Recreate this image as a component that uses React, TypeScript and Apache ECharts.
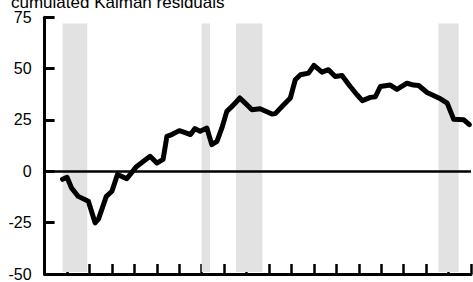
import React, { useEffect, useRef } from "react";
import * as echarts from "echarts";

const TITLE = "cumulated Kalman residuals";
const YEARS = [
  1973.8, 1974.0, 1974.2, 1974.5, 1974.95, 1975.25, 1975.4, 1975.75, 1976.0, 1976.25,
  1976.66, 1977.1, 1977.7, 1978.0, 1978.28, 1978.45, 1978.67, 1979.0, 1979.2, 1979.5,
  1979.7, 1979.93, 1980.23, 1980.45, 1980.68, 1980.9, 1981.12, 1981.35, 1981.7, 1981.94,
  1982.24, 1982.6, 1983.13, 1983.28, 1983.58, 1983.95, 1984.17, 1984.4, 1984.76, 1985.0,
  1985.36, 1985.65, 1985.95, 1986.25, 1986.62, 1986.92, 1987.16, 1987.52, 1987.74, 1987.96,
  1988.4, 1988.7, 1989.15, 1989.44, 1989.67, 1990.04, 1990.64, 1990.94, 1991.23, 1991.68,
  1991.93,
];
const RESIDUALS = [
  -3.9, -2.9, -8.1, -12.2, -14.6, -25.1, -23.3, -12.2, -9.7, -1.5,
  -3.6, 2.4, 7.3, 4.0, 5.8, 17.0, 17.9, 19.8, 19.1, 17.9,
  20.8, 19.5, 21.1, 13.0, 14.6, 21.1, 29.2, 31.6, 35.7, 33.2,
  30.0, 30.5, 27.9, 28.1, 31.6, 35.7, 44.6, 47.0, 47.8, 51.6,
  48.3, 49.5, 46.2, 46.7, 41.3, 37.3, 34.4, 36.0, 36.3, 41.3,
  42.0, 39.9, 42.9, 42.0, 41.8, 38.4, 35.3, 33.2, 25.3, 25.1,
  22.7,
];
const RECESSION_START = [1973.8, 1980.0, 1981.53, 1990.55];
const RECESSION_END = [1974.9, 1980.37, 1982.7, 1991.45];
const Y_TICKS = [-50, -25, 0, 25, 50, 75];

export default function App() {
  const ref = useRef<HTMLDivElement>(null);
  useEffect(() => {
    if (!ref.current) return;
    const chart = echarts.init(ref.current, undefined, { renderer: "svg" });
    const font = "Liberation Sans, Arial, Helvetica, sans-serif";
    chart.setOption({
      animation: false,
      backgroundColor: "#ffffff",
      title: {
        text: TITLE,
        left: 11,
        top: -6,
        padding: 0,
        textStyle: { fontFamily: font, fontSize: 17, fontWeight: "normal", color: "#000" },
      },
      grid: { left: 44.6, right: 2, top: 17.3, bottom: 8, containLabel: false },
      xAxis: {
        type: "value",
        min: 1973,
        max: 1992,
        interval: 1,
        axisLine: { show: true, onZero: false, lineStyle: { color: "#000", width: 3 } },
        axisTick: { show: true, inside: true, length: 10, lineStyle: { color: "#000", width: 2.5 } },
        axisLabel: { show: false },
        splitLine: { show: false },
      },
      yAxis: {
        type: "value",
        min: Y_TICKS[0],
        max: Y_TICKS[Y_TICKS.length - 1],
        interval: 25,
        axisLine: { show: true, lineStyle: { color: "#000", width: 3 } },
        axisTick: { show: true, inside: true, length: 10, lineStyle: { color: "#000", width: 3 } },
        axisLabel: {
          color: "#000",
          fontFamily: font,
          fontSize: 16,
          margin: 13,
        },
        splitLine: { show: false },
      },
      series: [
        {
          type: "line",
          data: YEARS.map((y, i) => [y, RESIDUALS[i]]),
          showSymbol: false,
          symbol: "none",
          lineStyle: { color: "#000", width: 5, join: "round", cap: "round" },
          z: 5,
          markArea: {
            silent: true,
            itemStyle: { color: "#e2e2e2" },
            data: RECESSION_START.map((s, i) => [
              { xAxis: s, yAxis: 72 },
              { xAxis: RECESSION_END[i], yAxis: -49 },
            ]),
          },
          markLine: {
            silent: true,
            symbol: "none",
            label: { show: false },
            lineStyle: { color: "#000", width: 2.5, type: "solid" },
            data: [{ yAxis: 0 }],
          },
        },
      ],
    });
    return () => chart.dispose();
  }, []);
  return (
    <div
      ref={ref}
      style={{ position: "fixed", left: 0, top: 0, width: 473, height: 282 }}
    />
  );
}
